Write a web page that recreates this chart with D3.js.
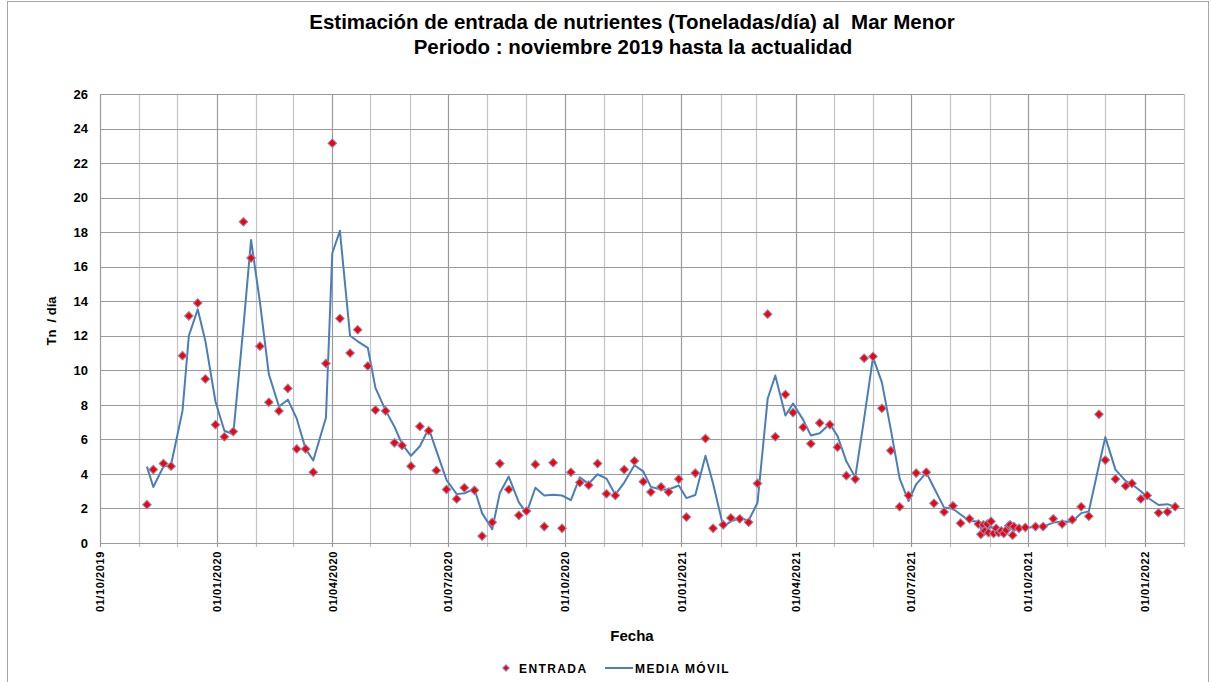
<!DOCTYPE html>
<html>
<head>
<meta charset="utf-8">
<script src="https://cdn.jsdelivr.net/npm/d3@7"></script>
<style>
  body { margin: 0; background: #fff; }
  text { font-family: "Liberation Sans", Arial, sans-serif; fill: #000; white-space: pre; }
</style>
</head>
<body>
<script>
// fechas de cada medida (semanal, más densa a finales de agosto 2021)
var fechas = [
  "2019-11-07","2019-11-12","2019-11-20","2019-11-26","2019-12-05","2019-12-10","2019-12-17","2019-12-23","2019-12-31",
  "2020-01-07","2020-01-14","2020-01-22","2020-01-28","2020-02-04","2020-02-11","2020-02-19","2020-02-26","2020-03-04",
  "2020-03-11","2020-03-17","2020-03-27","2020-04-01","2020-04-07","2020-04-15","2020-04-21","2020-04-29","2020-05-05",
  "2020-05-13","2020-05-20","2020-05-26","2020-06-02","2020-06-09","2020-06-16","2020-06-22","2020-06-30","2020-07-08",
  "2020-07-14","2020-07-22","2020-07-28","2020-08-05","2020-08-11","2020-08-18","2020-08-26","2020-09-01","2020-09-08",
  "2020-09-15","2020-09-22","2020-09-29","2020-10-06","2020-10-13","2020-10-20","2020-10-27","2020-11-03","2020-11-10",
  "2020-11-17","2020-11-25","2020-12-02","2020-12-08","2020-12-16","2020-12-22","2020-12-30","2021-01-05","2021-01-12",
  "2021-01-20","2021-01-26","2021-02-03","2021-02-09","2021-02-16","2021-02-23","2021-03-02","2021-03-10","2021-03-16",
  "2021-03-24","2021-03-30","2021-04-07","2021-04-13","2021-04-20","2021-04-28","2021-05-04","2021-05-11","2021-05-18",
  "2021-05-25","2021-06-01","2021-06-08","2021-06-15","2021-06-22","2021-06-29","2021-07-05","2021-07-13","2021-07-19",
  "2021-07-27","2021-08-03","2021-08-09","2021-08-16",
  "2021-08-23","2021-08-25","2021-08-27","2021-08-28","2021-08-30","2021-08-31","2021-09-02","2021-09-04","2021-09-06",
  "2021-09-08","2021-09-10","2021-09-12","2021-09-14","2021-09-16","2021-09-17","2021-09-19","2021-09-20",
  "2021-09-24","2021-09-29","2021-10-07","2021-10-13","2021-10-21","2021-10-28","2021-11-05","2021-11-12","2021-11-18",
  "2021-11-26","2021-12-01","2021-12-09","2021-12-17","2021-12-22","2021-12-29","2022-01-03","2022-01-12","2022-01-19",
  "2022-01-25"
];

// ENTRADA (Tn/día)
var entrada = [
  2.22,4.25,4.6,4.45,10.85,13.15,13.9,9.5,6.85,
  6.15,6.45,18.6,16.5,11.4,8.15,7.65,8.95,5.45,
  5.45,4.1,10.4,23.15,13.0,11.0,12.35,10.25,7.7,
  7.65,5.8,5.65,4.45,6.75,6.5,4.2,3.1,2.55,
  3.2,3.05,0.4,1.2,4.6,3.1,1.6,1.85,4.55,
  0.95,4.65,0.85,4.1,3.5,3.35,4.6,2.85,2.75,
  4.25,4.75,3.55,2.95,3.25,2.95,3.7,1.5,4.05,
  6.05,0.85,1.05,1.45,1.4,1.2,3.45,13.25,6.15,
  8.6,7.55,6.7,5.75,6.95,6.85,5.55,3.9,3.7,
  10.7,10.8,7.8,5.35,2.1,2.75,4.05,4.1,2.3,
  1.8,2.15,1.15,1.4,
  1.1,0.5,1.05,0.7,1.1,0.6,1.25,0.55,0.85,
  0.6,0.7,0.55,0.75,1.0,1.05,0.45,0.95,
  0.85,0.9,0.95,0.95,1.4,1.1,1.35,2.1,1.55,
  7.45,4.8,3.7,3.3,3.45,2.55,2.75,1.75,1.8,
  2.1
];

var mediaMovil = [
  4.42,3.24,4.43,4.53,7.65,12.0,13.53,11.7,8.18,
  6.5,6.3,12.53,17.55,13.95,9.78,7.9,8.3,7.2,
  5.45,4.78,7.25,16.78,18.08,12.0,11.68,11.3,8.98,
  7.68,6.73,5.73,5.05,5.6,6.63,5.35,3.65,2.83,
  2.88,3.13,1.73,0.8,2.9,3.85,2.35,1.73,3.2,
  2.75,2.8,2.75,2.48,3.8,3.43,3.98,3.73,2.8,
  3.5,4.5,4.15,3.25,3.1,3.1,3.33,2.6,2.78,
  5.05,3.45,0.95,1.25,1.43,1.3,2.33,8.35,9.7,
  7.38,8.08,7.13,6.23,6.35,6.9,6.2,4.73,3.8,
  7.2,10.75,9.3,6.58,3.73,2.43,3.4,4.08,3.2,
  2.05,1.98,1.65,1.28,
  1.25,0.8,0.78,0.88,0.9,0.85,0.93,0.9,0.7,
  0.73,0.65,0.63,0.65,0.88,1.03,0.75,0.7,
  0.9,0.88,0.93,0.95,1.18,1.25,1.23,1.73,1.83,
  4.5,6.13,4.25,3.6,3.4,3.0,2.65,2.2,2.25,
  2.1
];

var yTicks = [0,2,4,6,8,10,12,14,16,18,20,22,24,26];
var xInicio = "2019-10-01", xFin = "2022-02-01";

var W = 1211, H = 682;
var margin = {top: 94, right: 27, bottom: 139, left: 100};
var parse = d3.timeParse("%Y-%m-%d");
var fmt = d3.timeFormat("%d/%m/%Y");

var svg = d3.select("body").append("svg")
    .attr("width", W)
    .attr("height", H);

// marco exterior del gráfico
svg.append("rect")
    .attr("x", 7.5).attr("y", 1.5)
    .attr("width", 1201).attr("height", 690)
    .attr("fill", "none")
    .attr("stroke", "#a6a6a6");

var x = d3.scaleTime()
    .domain([parse(xInicio), parse(xFin)])
    .range([margin.left, W - margin.right]);

var y = d3.scaleLinear()
    .domain([0, 26])
    .range([H - margin.bottom, margin.top]);

var data = fechas.map(function(f, i) {
  return {fecha: parse(f), entrada: entrada[i], media: mediaMovil[i]};
});

// rejilla vertical mensual
var meses = d3.timeMonth.range(parse(xInicio), d3.timeDay.offset(parse(xFin), 1));
svg.append("g").selectAll("line")
    .data(meses)
    .enter().append("line")
    .attr("x1", function(d) { return Math.round(x(d)) + 0.5; })
    .attr("x2", function(d) { return Math.round(x(d)) + 0.5; })
    .attr("y1", y(26))
    .attr("y2", y(0) + 4)
    .attr("stroke", function(d) { return d.getMonth() % 3 === 0 ? "#9a9a9a" : "#c4c4c4"; })
    .attr("stroke-width", 1.2);

// rejilla horizontal
svg.append("g").selectAll("line")
    .data(yTicks)
    .enter().append("line")
    .attr("x1", x.range()[0])
    .attr("x2", x.range()[1])
    .attr("y1", function(d) { return Math.round(y(d)) + 0.5; })
    .attr("y2", function(d) { return Math.round(y(d)) + 0.5; })
    .attr("stroke", "#9a9a9a")
    .attr("stroke-width", 1.2);

// eje Y
var yAxis = svg.append("g")
    .attr("transform", "translate(" + margin.left + ",0)")
    .call(d3.axisLeft(y).tickValues(yTicks).tickSize(0).tickPadding(12));
yAxis.select(".domain").attr("stroke", "#9a9a9a");
yAxis.selectAll("text")
    .style("font-size", "13px")
    .style("font-weight", "bold")
    .style("font-family", "Liberation Sans, Arial, sans-serif");

// eje X (trimestral)
var xAxis = svg.append("g")
    .attr("transform", "translate(0," + y(0) + ")")
    .call(d3.axisBottom(x).ticks(d3.timeMonth.every(3)).tickFormat(fmt).tickSize(0));
xAxis.select(".domain").attr("stroke", "#9a9a9a");
xAxis.selectAll("text")
    .attr("transform", "rotate(-90)")
    .attr("x", -8)
    .attr("y", 0)
    .attr("dy", "0.35em")
    .style("text-anchor", "end")
    .style("font-size", "11px")
    .style("letter-spacing", "0.6px")
    .style("font-weight", "bold")
    .style("font-family", "Liberation Sans, Arial, sans-serif");

// MEDIA MÓVIL
var line = d3.line()
    .x(function(d) { return x(d.fecha); })
    .y(function(d) { return y(d.media); });

svg.append("path")
    .datum(data)
    .attr("d", line)
    .attr("fill", "none")
    .attr("stroke", "#4a7ebb")
    .attr("stroke-width", 2)
    .attr("stroke-linejoin", "round");

// ENTRADA
var diamond = d3.symbol().type(d3.symbolSquare).size(38);
svg.append("g").selectAll("path")
    .data(data)
    .enter().append("path")
    .attr("d", diamond)
    .attr("transform", function(d) {
      return "translate(" + x(d.fecha) + "," + y(d.entrada) + ") rotate(45)";
    })
    .attr("fill", "#ff0000")
    .attr("stroke", "#7f95c8")
    .attr("stroke-width", 1);

// títulos
svg.append("text")
    .attr("x", 632).attr("y", 29)
    .attr("text-anchor", "middle")
    .style("font-size", "20.5px")
    .style("font-weight", "bold")
    .text("Estimación de entrada de nutrientes (Toneladas/día) al  Mar Menor");

svg.append("text")
    .attr("x", 633).attr("y", 54)
    .attr("text-anchor", "middle")
    .style("font-size", "20.5px")
    .style("font-weight", "bold")
    .text("Periodo : noviembre 2019 hasta la actualidad");

svg.append("text")
    .attr("transform", "translate(56,321) rotate(-90)")
    .attr("text-anchor", "middle")
    .style("font-size", "13px")
    .style("font-weight", "bold")
    .text("Tn  / día");

svg.append("text")
    .attr("x", 632).attr("y", 641)
    .attr("text-anchor", "middle")
    .style("font-size", "15px")
    .style("font-weight", "bold")
    .text("Fecha");

// leyenda
var leg = svg.append("g").attr("transform", "translate(0,668)");
leg.append("path")
    .attr("d", d3.symbol().type(d3.symbolSquare).size(22))
    .attr("transform", "translate(506,0) rotate(45)")
    .attr("fill", "#ff0000")
    .attr("stroke", "#7f95c8");
leg.append("text")
    .attr("x", 519).attr("y", 5)
    .style("font-size", "12px")
    .style("font-weight", "bold")
    .style("letter-spacing", "1.4px")
    .text("ENTRADA");
leg.append("line")
    .attr("x1", 605).attr("x2", 633)
    .attr("y1", 0).attr("y2", 0)
    .attr("stroke", "#4a7ebb")
    .attr("stroke-width", 2);
leg.append("text")
    .attr("x", 635).attr("y", 5)
    .style("font-size", "12px")
    .style("font-weight", "bold")
    .style("letter-spacing", "1.4px")
    .text("MEDIA MÓVIL");
</script>
</body>
</html>
